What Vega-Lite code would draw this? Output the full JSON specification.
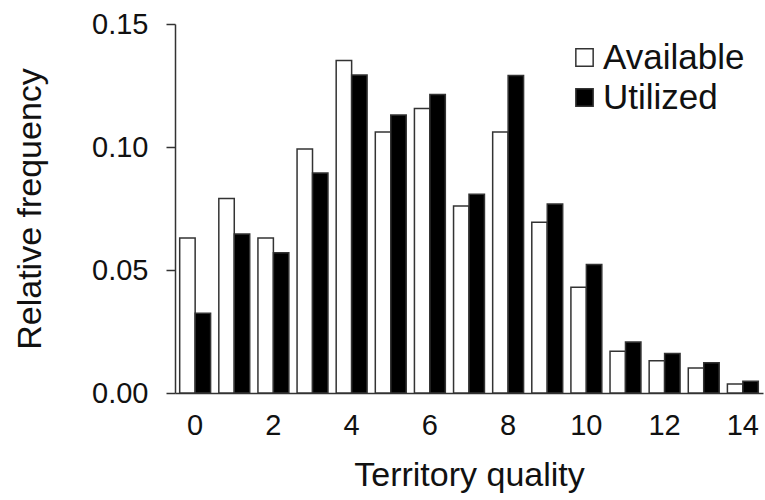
{
  "$schema": "https://vega.github.io/schema/vega-lite/v6.json",
  "autosize": "none",
  "width": 588,
  "height": 369,
  "padding": {"left": 175, "top": 24, "right": 2, "bottom": 107},
  "background": "white",
  "config": {
    "font": "Liberation Sans",
    "view": {"stroke": null}
  },
  "data": {
    "values": [
      {"q": 0, "series": "Available", "value": 0.063},
      {"q": 0, "series": "Utilized", "value": 0.0324},
      {"q": 1, "series": "Available", "value": 0.0791},
      {"q": 1, "series": "Utilized", "value": 0.0646},
      {"q": 2, "series": "Available", "value": 0.063},
      {"q": 2, "series": "Utilized", "value": 0.057},
      {"q": 3, "series": "Available", "value": 0.0992},
      {"q": 3, "series": "Utilized", "value": 0.0894},
      {"q": 4, "series": "Available", "value": 0.1352},
      {"q": 4, "series": "Utilized", "value": 0.1293},
      {"q": 5, "series": "Available", "value": 0.1061},
      {"q": 5, "series": "Utilized", "value": 0.113},
      {"q": 6, "series": "Available", "value": 0.1156},
      {"q": 6, "series": "Utilized", "value": 0.1213},
      {"q": 7, "series": "Available", "value": 0.076},
      {"q": 7, "series": "Utilized", "value": 0.0808},
      {"q": 8, "series": "Available", "value": 0.1061},
      {"q": 8, "series": "Utilized", "value": 0.1291},
      {"q": 9, "series": "Available", "value": 0.0694},
      {"q": 9, "series": "Utilized", "value": 0.0768},
      {"q": 10, "series": "Available", "value": 0.043},
      {"q": 10, "series": "Utilized", "value": 0.0522},
      {"q": 11, "series": "Available", "value": 0.017},
      {"q": 11, "series": "Utilized", "value": 0.0207},
      {"q": 12, "series": "Available", "value": 0.0131},
      {"q": 12, "series": "Utilized", "value": 0.0161},
      {"q": 13, "series": "Available", "value": 0.0102},
      {"q": 13, "series": "Utilized", "value": 0.0123},
      {"q": 14, "series": "Available", "value": 0.0037},
      {"q": 14, "series": "Utilized", "value": 0.0048}
    ]
  },
  "mark": {"type": "bar", "stroke": "#333", "strokeWidth": 1.5},
  "encoding": {
    "x": {
      "field": "q",
      "type": "ordinal",
      "scale": {"paddingInner": 0.21, "paddingOuter": 0.12},
      "axis": {
        "values": [0, 2, 4, 6, 8, 10, 12, 14],
        "labelAngle": 0,
        "ticks": false,
        "domain": true,
        "domainColor": "#333",
        "domainWidth": 1.5,
        "labelFontSize": 29,
        "labelColor": "#111",
        "labelPadding": 18,
        "title": "Territory quality",
        "titleFontSize": 34,
        "titleFontWeight": "normal",
        "titleColor": "#111",
        "titlePadding": 18
      }
    },
    "xOffset": {"field": "series", "type": "nominal", "sort": ["Available", "Utilized"]},
    "y": {
      "field": "value",
      "type": "quantitative",
      "scale": {"domain": [0, 0.15], "nice": false},
      "axis": {
        "values": [0, 0.05, 0.1, 0.15],
        "format": ".2f",
        "grid": false,
        "tickSize": 9,
        "tickColor": "#333",
        "tickWidth": 1.5,
        "domainColor": "#333",
        "domainWidth": 1.5,
        "labelFontSize": 29,
        "labelColor": "#111",
        "labelPadding": 18,
        "title": "Relative frequency",
        "titleFontSize": 34,
        "titleFontWeight": "normal",
        "titleColor": "#111",
        "titlePadding": 44
      }
    },
    "fill": {
      "field": "series",
      "type": "nominal",
      "sort": ["Available", "Utilized"],
      "scale": {"domain": ["Available", "Utilized"], "range": ["white", "black"]},
      "legend": {
        "title": null,
        "orient": "none",
        "legendX": 392,
        "legendY": 16,
        "symbolType": "square",
        "symbolSize": 300,
        "symbolStrokeColor": "#333",
        "symbolStrokeWidth": 1.5,
        "labelFontSize": 35,
        "labelColor": "#111",
        "labelOffset": 1,
        "rowPadding": 4
      }
    }
  }
}
